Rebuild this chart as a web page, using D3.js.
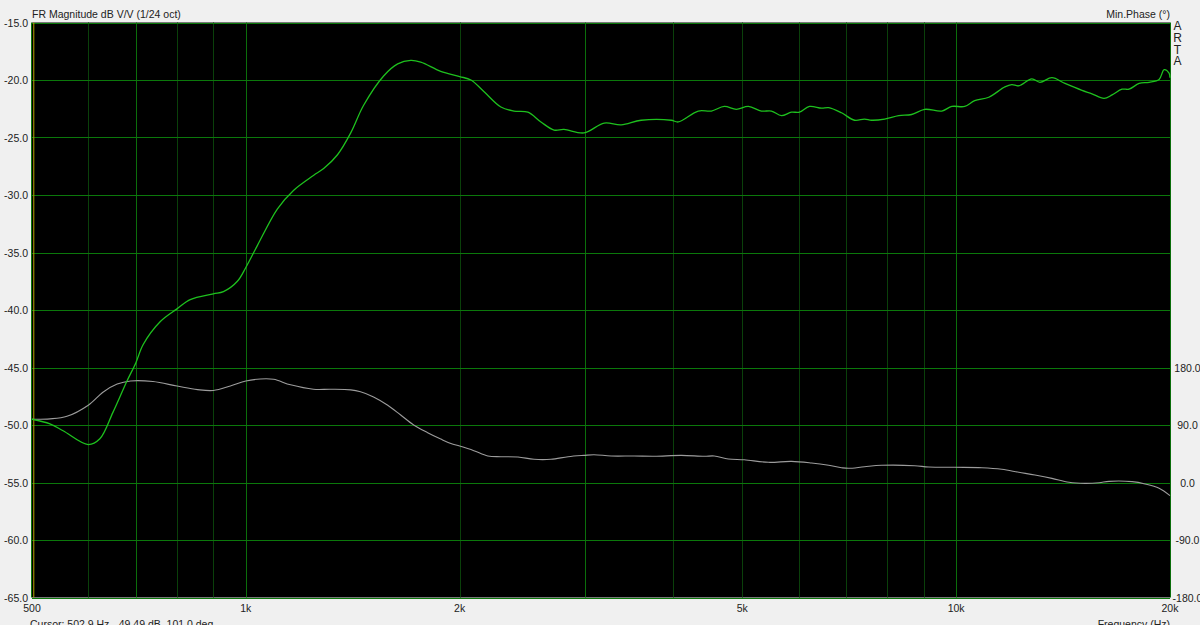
<!DOCTYPE html>
<html><head><meta charset="utf-8">
<script src="https://cdn.jsdelivr.net/npm/d3@7"></script>
<style>
html,body{margin:0;padding:0;background:#f0f0f0;}
svg{display:block;}
text{font-family:"Liberation Sans",Arial,sans-serif;font-size:10.5px;fill:#222;}
</style></head>
<body>
<svg id="c" width="1200" height="625"></svg>
<script>
// ---- data ----
const magFreq = [500,530,553,600,623,650,680,700,717,758,800,835,900,930,973,1000,1038,1108,1167,1245,1287,1346,1405,1465,1563,1636,1707,1763,1881,2000,2074,2163,2286,2385,2495,2603,2716,2805,2993,3195,3376,3602,3971,4062,4334,4522,4716,4903,5099,5319,5495,5675,5863,6015,6215,6464,6615,6896,7194,7430,7600,7930,8300,8656,9030,9545,9860,10280,10620,11115,11710,11975,12250,12780,13120,13640,14230,15035,15530,16150,16575,17120,17515,18095,18690,19305,19625,19940,20000];
const magDb = [-49.5,-49.9,-50.5,-51.7,-51.2,-48.9,-46.2,-44.6,-43.0,-41.0,-39.9,-39.1,-38.6,-38.4,-37.5,-36.3,-34.4,-31.2,-29.6,-28.3,-27.7,-26.5,-24.6,-22.2,-19.65,-18.6,-18.3,-18.45,-19.25,-19.7,-20.0,-21.0,-22.35,-22.7,-22.8,-23.65,-24.35,-24.3,-24.6,-23.75,-23.9,-23.5,-23.5,-23.65,-22.7,-22.7,-22.3,-22.55,-22.3,-22.7,-22.7,-23.1,-22.8,-22.8,-22.3,-22.45,-22.4,-22.85,-23.5,-23.4,-23.5,-23.4,-23.1,-23.0,-22.55,-22.7,-22.3,-22.3,-21.8,-21.5,-20.6,-20.4,-20.5,-19.9,-20.2,-19.8,-20.3,-20.9,-21.2,-21.6,-21.3,-20.8,-20.8,-20.3,-20.2,-19.95,-19.1,-19.4,-19.8];
const phaseFreq = [500,530,560,600,630,659,688,740,800,855,900,951,1000,1048,1094,1156,1245,1316,1405,1450,1513,1584,1652,1723,1803,1881,1944,2000,2094,2191,2286,2416,2545,2689,2843,2993,3091,3267,3521,3757,4102,4419,4565,4778,5032,5441,5863,6257,6615,6896,7053,7430,7852,8741,9148,9954,10871,11597,12250,12909,13640,14416,15186,15896,16414,17689,18449,19305,20000];
const phaseDeg = [99,99.6,103.6,121,141.7,154,158.9,158,151,145.4,144,151,158.9,162,161.5,152.9,146,146,145,142,134,121,105.6,90,78,68,61,57,49.8,41.5,40.4,39.9,36.3,36.3,40.4,42.5,43.5,41.5,41.5,41,42.5,41,41.5,36.8,35.5,31.6,33.1,30.5,26.9,23.2,22.2,24.7,26.9,26.3,24.3,23.8,23.2,20.7,16,11.7,6.5,0.3,-1.3,-0.3,1.8,1.3,-2.3,-9,-20.6];
const dbTicks = [-15,-20,-25,-30,-35,-40,-45,-50,-55,-60,-65];
const phaseTicks = [180,90,0,-90,-180];
const freqGrid = [600,700,800,900,1000,2000,3000,4000,5000,6000,7000,8000,9000,10000,20000];
const brightGrid = [700,1000,3000,10000,20000];
const freqLabels = [[500,"500"],[1000,"1k"],[2000,"2k"],[5000,"5k"],[10000,"10k"],[20000,"20k"]];
const cursorFreq = 502.9;

// ---- chart ----
const svg = d3.select("#c");
const L=32, R=1170, T=22.5, B=597.5;
const x = d3.scaleLog().domain([500,20000]).range([L,R]);
const y = d3.scaleLinear().domain([-65,-15]).range([B,T]);
const yp = d3.scaleLinear().domain([-180,180]).range([B,367.5]);

svg.append("rect").attr("x",L).attr("y",T).attr("width",R-L).attr("height",B-T).attr("fill","#000");

const g = svg.append("g");
// vertical grid
g.selectAll("line.v").data(freqGrid).enter().append("line")
  .attr("x1",d=>Math.round(x(d))+0.5).attr("x2",d=>Math.round(x(d))+0.5)
  .attr("y1",T).attr("y2",B)
  .attr("stroke",d=>brightGrid.includes(d)?"#0b6e0b":"#0a400a").attr("stroke-width",1);
// horizontal grid
g.selectAll("line.h").data(dbTicks).enter().append("line")
  .attr("x1",L).attr("x2",R)
  .attr("y1",d=>Math.round(y(d))+0.5).attr("y2",d=>Math.round(y(d))+0.5)
  .attr("stroke","#0b780b").attr("stroke-width",1);
// left edge
g.append("line").attr("x1",L-0.5).attr("x2",L-0.5).attr("y1",T).attr("y2",B).attr("stroke","#0b780b");
// cursor
g.append("line").attr("x1",x(cursorFreq)).attr("x2",x(cursorFreq)).attr("y1",T).attr("y2",B)
  .attr("stroke","#b8a800").attr("stroke-width",1);

// curves
svg.append("clipPath").attr("id","pc").append("rect").attr("x",L).attr("y",T).attr("width",R-L+1).attr("height",B-T);
const magLine = d3.line().x(d=>x(d[0])).y(d=>y(d[1])).curve(d3.curveCatmullRom.alpha(0.5));
const phLine = d3.line().x(d=>x(d[0])).y(d=>yp(d[1])).curve(d3.curveCatmullRom.alpha(0.5));
svg.append("path").datum(d3.zip(phaseFreq,phaseDeg)).attr("d",phLine)
  .attr("fill","none").attr("stroke","#9c9c9c").attr("stroke-width",1.1).attr("clip-path","url(#pc)");
svg.append("path").datum(d3.zip(magFreq,magDb)).attr("d",magLine)
  .attr("fill","none").attr("stroke","#1ec01e").attr("stroke-width",1.3).attr("clip-path","url(#pc)");

// left axis labels
svg.selectAll("text.ly").data(dbTicks).enter().append("text")
  .attr("x",28).attr("y",d=>y(d)+4).attr("text-anchor","end").text(d=>d.toFixed(1));
// right axis labels
svg.selectAll("text.ry").data(phaseTicks).enter().append("text")
  .attr("x",1187.5).attr("y",d=>yp(d)+4).attr("text-anchor","middle").text(d=>d.toFixed(1));
// bottom labels
svg.selectAll("text.bx").data(freqLabels).enter().append("text")
  .attr("x",d=>x(d[0])).attr("y",612).attr("text-anchor","middle").text(d=>d[1]);

svg.append("text").attr("x",L).attr("y",18).text("FR Magnitude dB V/V (1/24 oct)");
svg.append("text").attr("x",R).attr("y",18).attr("text-anchor","end").text("Min.Phase (°)");
const arta = ["A","R","T","A"];
svg.selectAll("text.arta").data(arta).enter().append("text")
  .attr("x",1177.5).attr("y",(d,i)=>30+i*11.8).attr("text-anchor","middle").style("font-size","12px").text(d=>d);
svg.append("text").attr("x",30).attr("y",628).text("Cursor: 502.9 Hz, -49.49 dB, 101.0 deg");
svg.append("text").attr("x",R).attr("y",628).attr("text-anchor","end").text("Frequency (Hz)");
</script>
</body></html>
